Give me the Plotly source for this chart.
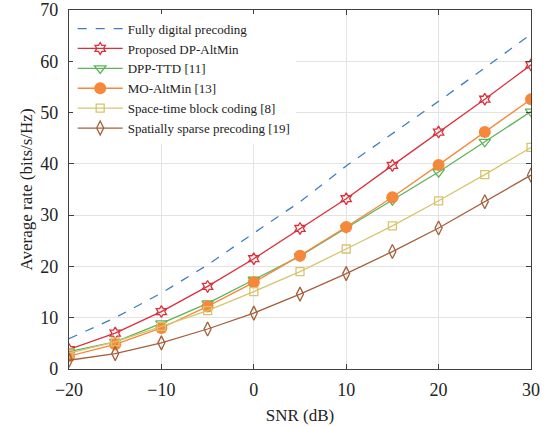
import plotly.graph_objects as go

snr = [-20, -15, -10, -5, 0, 5, 10, 15, 20, 25, 30]
fully_digital = [5.9, 10.0, 14.8, 20.3, 26.5, 32.6, 39.6, 45.9, 52.2, 58.7, 65.3]
proposed = [3.8, 7.0, 11.2, 16.1, 21.5, 27.4, 33.2, 39.7, 46.2, 52.6, 59.3]
dpp_ttd = [3.4, 5.3, 8.9, 12.8, 17.4, 22.0, 27.5, 32.9, 38.4, 44.3, 50.2]
mo_altmin = [2.5, 4.8, 8.0, 12.2, 16.9, 22.1, 27.7, 33.5, 39.8, 46.2, 52.6]
stbc = [3.1, 5.3, 8.3, 11.4, 15.1, 19.0, 23.4, 27.9, 32.8, 37.9, 43.2]
sparse = [1.7, 3.0, 5.1, 7.8, 10.9, 14.6, 18.6, 22.9, 27.5, 32.6, 37.8]

names = ["Fully digital precoding", "Proposed DP-AltMin", "DPP-TTD [11]",
         "MO-AltMin [13]", "Space-time block coding [8]", "Spatially sparse precoding [19]"]

FONT = "Liberation Serif"

fig = go.Figure()
fig.add_trace(go.Scatter(x=snr, y=fully_digital, name=names[0], mode="lines",
                         line=dict(color="#3f7fc0", width=1.3, dash="dash")))
fig.add_trace(go.Scatter(x=snr, y=proposed, name=names[1], mode="lines+markers",
                         line=dict(color="#dc2f3a", width=1.3),
                         marker=dict(symbol="hexagram-open", size=9, color="#dc2f3a", line=dict(width=1.3))))
fig.add_trace(go.Scatter(x=snr, y=dpp_ttd, name=names[2], mode="lines+markers",
                         line=dict(color="#5cb45a", width=1.3),
                         marker=dict(symbol="triangle-down-open", size=10, color="#5cb45a", line=dict(width=1.3))))
fig.add_trace(go.Scatter(x=snr, y=mo_altmin, name=names[3], mode="lines+markers",
                         line=dict(color="#f5883a", width=1.3),
                         marker=dict(symbol="circle", size=12, color="#f5883a")))
fig.add_trace(go.Scatter(x=snr, y=stbc, name=names[4], mode="lines+markers",
                         line=dict(color="#d8c46e", width=1.3),
                         marker=dict(symbol="square-open", size=8, color="#d8c46e", line=dict(width=1.3))))
fig.add_trace(go.Scatter(x=snr, y=sparse, name=names[5], mode="lines+markers",
                         line=dict(color="#a5603a", width=1.3),
                         marker=dict(symbol="diamond-tall-open", size=10, color="#a5603a", line=dict(width=1.3))))

axis_common = dict(showline=True, linecolor="#404040", linewidth=1.3, mirror="ticks",
                   ticks="inside", ticklen=5, tickcolor="#404040",
                   showgrid=True, gridcolor="#e3e3e3", gridwidth=1.2, zeroline=False,
                   ticklabeloverflow="allow", automargin=False,
                   tickfont=dict(family=FONT, size=18, color="#222"))

fig.update_xaxes(range=[-20, 30], dtick=10, ticklabelstandoff=4,
                 title=dict(text="SNR (dB)", font=dict(family=FONT, size=17, color="#222"), standoff=10),
                 **axis_common)
fig.update_yaxes(range=[0, 70], dtick=10, ticklabelstandoff=6,
                 title=dict(text="Average rate (bits/s/Hz)", font=dict(family=FONT, size=17, color="#222"), standoff=3),
                 **axis_common)

fig.update_layout(
    width=549, height=427,
    margin=dict(l=69, r=18, t=10, b=58),
    paper_bgcolor="white", plot_bgcolor="white",
    font=dict(family=FONT, color="#222"),
    showlegend=True,
    legend=dict(x=0.008, y=0.99, xanchor="left", yanchor="top",
                bgcolor="white", borderwidth=0, itemwidth=45,
                font=dict(family=FONT, size=13, color="#222"),
                tracegroupgap=0),
)

fig.write_html("out.html")
